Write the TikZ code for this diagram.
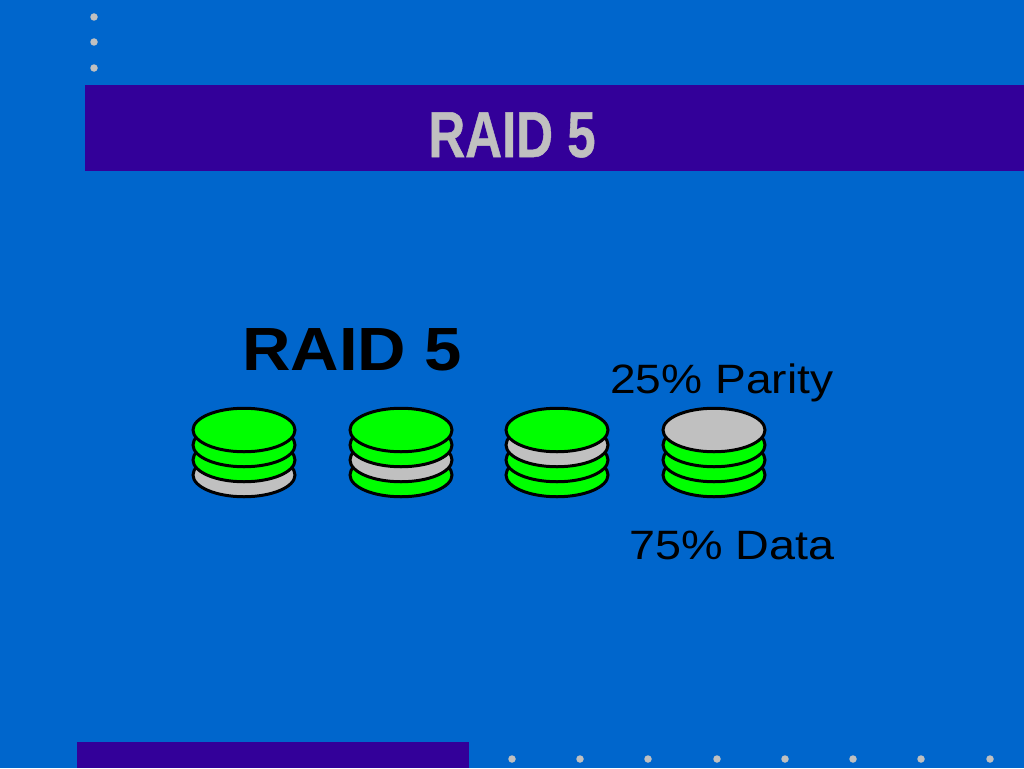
\documentclass[tikz,border=0pt]{standalone}
\usepackage{fontspec}
\setmainfont{Liberation Sans}
\definecolor{bgblue}{RGB}{0,102,204}
\definecolor{band}{RGB}{51,0,153}
\definecolor{silver}{RGB}{192,192,192}
\definecolor{lime}{RGB}{0,255,0}
\tikzset{
  platter/.style={ellipse,draw=black,line width=3pt,minimum width=102pt,minimum height=43.5pt,inner sep=0pt},
  dot/.style={circle,fill=silver,draw=none,minimum size=7.5pt,inner sep=0pt},
  bar/.style={fill=band,draw=none},
  lab/.style={inner sep=0pt,anchor=base west,text=black}
}
\usetikzlibrary{shapes.geometric}
\newcommand{\diskstack}[6]{%
  \node[platter,fill=#6] (#2d) at (#1,475) {};
  \node[platter,fill=#5] (#2c) at (#1,460) {};
  \node[platter,fill=#4] (#2b) at (#1,445) {};
  \node[platter,fill=#3] (#2a) at (#1,430) {};
}
\begin{document}
\begin{tikzpicture}[x=1pt,y=-1pt]
\useasboundingbox (0,0) rectangle (1024,768);
\fill[bgblue] (0,0) rectangle (1024,768);
\fill[bar] (85,85) rectangle (1024,171);
\fill[bar] (77,742) rectangle (469,768);
\foreach \n/\y in {a/17,b/42,c/68} \node[dot] (top\n) at (94,\y) {};
\foreach \n/\x in {a/512,b/580,c/648,d/717,e/785,f/853,g/921,h/990} \node[dot] (bot\n) at (\x,759) {};
\node[inner sep=0pt,anchor=base,text=silver,font=\fontsize{65pt}{65pt}\bfseries,xscale=0.785] (title) at (512,157) {\special{pdf:code 2 Tr 0.5 w 0.75 0.75 0.75 RG}RAID 5\special{pdf:code 0 Tr}};
\node[lab,font=\fontsize{61pt}{61pt}\bfseries,xscale=1.1] (head) at (242,370) {RAID 5};
\node[lab,font=\fontsize{41pt}{41pt}\selectfont,xscale=1.125] (parity) at (610,393) {25\% Parity};
\node[lab,font=\fontsize{41pt}{41pt}\selectfont,xscale=1.14] (data) at (629,559) {75\% Data};
\diskstack{244}{s}{lime}{lime}{lime}{silver}
\diskstack{401}{t}{lime}{lime}{silver}{lime}
\diskstack{557}{u}{lime}{silver}{lime}{lime}
\diskstack{714}{v}{silver}{lime}{lime}{lime}
\end{tikzpicture}
\end{document}
